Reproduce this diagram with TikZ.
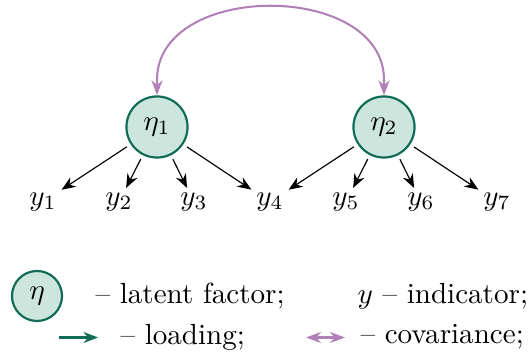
\documentclass[tikz,border=0pt]{standalone}
\usetikzlibrary{arrows.meta}
\definecolor{fgreen}{RGB}{16,108,84}
\definecolor{lgreen}{RGB}{204,230,222}
\definecolor{purp}{RGB}{176,128,182}
\begin{document}
\begin{tikzpicture}[x=0.3438pt,y=-0.3438pt,
  latent/.style={circle,draw=fgreen,fill=lgreen,line width=0.75pt,minimum size=21pt,inner sep=0pt},
  latentsm/.style={circle,draw=fgreen,fill=lgreen,line width=0.75pt,minimum size=17.2pt,inner sep=0pt},
  ind/.style={inner sep=1.5pt},
  load/.style={-{Stealth[length=4.8pt,width=3.8pt]},line width=0.4pt,shorten <=1.5pt},
  cov/.style={{Stealth[length=5.2pt,width=3.8pt]}-{Stealth[length=5.2pt,width=3.8pt]},draw=purp,line width=0.7pt},
  legtext/.style={anchor=west,inner sep=0pt}]
\useasboundingbox (0,0) rectangle (532,360);
\node[latent] (e1) at (157,127) {$\eta_1$};
\node[latent] (e2) at (384,127) {$\eta_2$};
\node[ind] (y1) at (43,202) {$y_1$};
\node[ind] (y2) at (119,202) {$y_2$};
\node[ind] (y3) at (194,202) {$y_3$};
\node[ind] (y4) at (270,202) {$y_4$};
\node[ind] (y5) at (346,202) {$y_5$};
\node[ind] (y6) at (421,202) {$y_6$};
\node[ind] (y7) at (497,202) {$y_7$};
\foreach \t in {y1,y2,y3,y4} \draw[load] (e1) -- (\t);
\foreach \t in {y4,y5,y6,y7} \draw[load] (e2) -- (\t);
\draw[cov] (e1.north) -- (157,80) .. controls (157,-19) and (384,-19) .. (384,80) -- (e2.north);
% legend
\node[latentsm] (le) at (37,296) {$\eta$};
\node[legtext] (t1) at (95,296) {-- latent factor;};
\node[legtext] (t2) at (357,296) {$y$ -- indicator;};
\coordinate (ga) at (59,337.5);
\coordinate (gb) at (98,337.5);
\draw[-{Stealth[length=5pt,width=3.8pt]},draw=fgreen,line width=0.7pt] (ga) -- (gb);
\node[legtext] (t3) at (120,337) {-- loading;};
\coordinate (pa) at (306,337.5);
\coordinate (pb) at (345,337.5);
\draw[cov] (pa) -- (pb);
\node[legtext] (t4) at (360,337) {-- covariance;};
\end{tikzpicture}
\end{document}
